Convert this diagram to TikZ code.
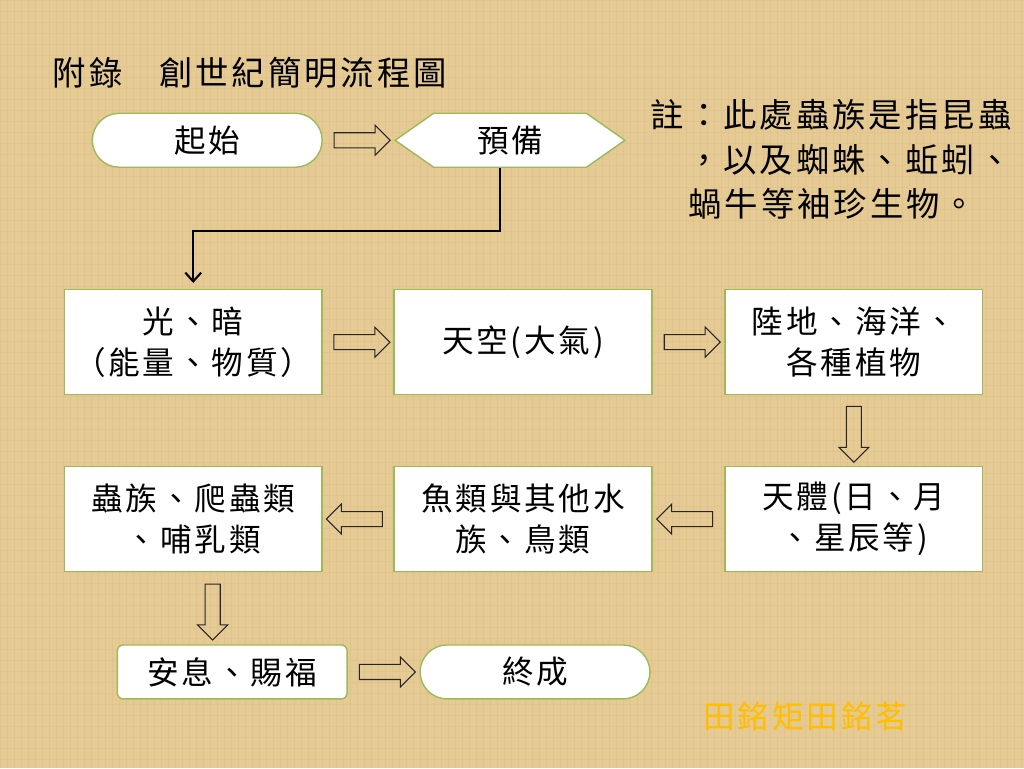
\documentclass[tikz,border=0pt]{standalone}
\usepackage{fontspec}
\setmainfont{Noto Sans CJK TC}
\usetikzlibrary{shapes.arrows,shapes.symbols,arrows.meta,calc}

\definecolor{parch}{RGB}{229,202,147}
\definecolor{parchline}{RGB}{200,168,110}
\definecolor{boxline}{RGB}{155,187,89}
\definecolor{signgold}{RGB}{255,190,0}

\newcommand{\cjksize}[1]{\fontsize{#1}{1.3\dimexpr#1pt\relax}\selectfont\addfontfeatures{LetterSpace=9}}

\tikzset{
  stepbox/.style={draw=boxline, line width=0.8pt, fill=white, minimum width=5.16cm, minimum height=2.1cm, align=center, font=\cjksize{18}},
  endbox/.style={draw=boxline, line width=0.8pt, fill=white, minimum width=4.6cm, minimum height=1.08cm, rounded corners=0.54cm, font=\cjksize{18}},
  blockarrow/.style={single arrow, draw=black!85, line width=0.6pt, inner sep=0.14cm, single arrow head extend=0.15cm, minimum height=1.12cm},
  note/.style={font=\cjksize{19}, inner sep=0pt}
}

\begin{document}
\begin{tikzpicture}[x=0.02cm,y=-0.02cm]
            % background
            \fill[parch] (0,0) rectangle (1024,768);
            \foreach \x in {0,7,...,1024}
                \draw[parchline, opacity=0.15, line width=0.4pt] (\x,0) -- (\x,768);
            \foreach \y in {0,11,...,768}
                \draw[parchline, opacity=0.12, line width=0.3pt] (0,\y) -- (1024,\y);
            \useasboundingbox (0,0) rectangle (1024,768);

            \node[anchor=west, font=\cjksize{19}, inner sep=0pt] (title) at (52,72) {附錄\hspace{1.1em}創世紀簡明流程圖};

            \node[endbox] (start) at (207,140) {起始};
            \node[signal, signal to=west and east, signal pointer angle=70, draw=boxline, line width=0.8pt, fill=white, minimum width=4.6cm, minimum height=1.08cm, font=\cjksize{18}] (prep) at (510,140) {預備};

            \node[stepbox] (light) at (193,342) {光、暗\\（能量、物質）};
            \node[stepbox] (sky) at (523,342) {天空(大氣)};
            \node[stepbox] (land) at (854,342) {陸地、海洋、\\各種植物};

            \node[stepbox] (stars) at (854,519) {天體(日、月\\、星辰等)};
            \node[stepbox] (fish) at (523,519) {魚類與其他水\\族、鳥類};
            \node[stepbox] (insect) at (193,519) {蟲族、爬蟲類\\、哺乳類};

            \node[endbox, rounded corners=0.12cm] (rest) at (232,672) {安息、賜福};
            \node[endbox] (finish) at (535,672) {終成};

            % block arrows
            \node[blockarrow] (a1) at ($(start.east)!0.5!(prep.west)$) {};
            \node[blockarrow] (a2) at ($(light.east)!0.5!(sky.west)$) {};
            \node[blockarrow] (a3) at ($(sky.east)!0.5!(land.west)$) {};
            \node[blockarrow, rotate=-90] (a4) at ($(land.south)!0.5!(stars.north)$) {};
            \node[blockarrow, rotate=180] (a5) at ($(stars.west)!0.5!(fish.east)$) {};
            \node[blockarrow, rotate=180] (a6) at ($(fish.west)!0.5!(insect.east)$) {};
            \node[blockarrow, rotate=-90] (a7) at ($(insect.south)!0.5!(rest.north)$) {};
            \node[blockarrow] (a8) at ($(rest.east)!0.5!(finish.west)$) {};

            \draw[line width=1.2pt, -{Straight Barb[length=5pt,width=9pt]}, shorten >=0.12cm]
                ([xshift=-0.2cm]prep.south) -- ++(0,63) -| (light.north);

            % note
            \node[note, anchor=east] (n1) at (1012,115) {註：此處蟲族是指昆蟲};
            \node[note, anchor=east] (n2) at (1012,160) {，以及蜘蛛、蚯蚓、};
            \node[note, anchor=west] (n3) at (688,203) {蝸牛等袖珍生物。};

            \node[text=signgold, font=\cjksize{18}, anchor=west, inner sep=0pt] (sign) at (703,717) {田銘矩田銘茗};
        \end{tikzpicture}
\end{document}
